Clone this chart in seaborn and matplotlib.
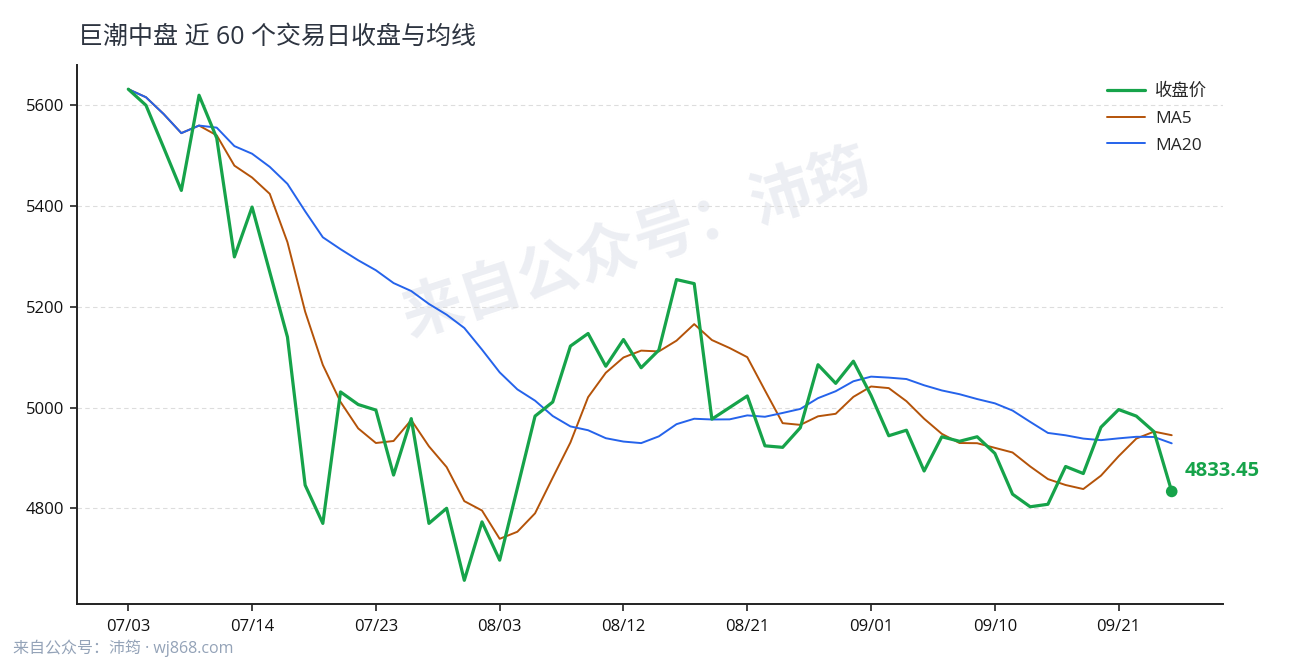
import matplotlib
matplotlib.use("Agg")
import matplotlib.pyplot as plt
import seaborn as sns
import pandas as pd
import numpy as np

# ---- data ----
title = "巨潮中盘 近 60 个交易日收盘与均线"
close = [5632, 5600, 5516, 5431, 5620, 5535, 5299, 5398, 5269, 5140,
         4846, 4770, 5031, 5006, 4995, 4866, 4978, 4770, 4800, 4657,
         4773, 4697, 4840, 4983, 5011, 5122, 5147, 5082, 5135, 5079,
         5114, 5254, 5246, 4977, 5000, 5023, 4924, 4921, 4960, 5085,
         5048, 5092, 5024, 4944, 4955, 4874, 4942, 4933, 4942, 4909,
         4828, 4803, 4808, 4883, 4869, 4961, 4996, 4983, 4952, 4833.45]
tick_labels = ["07/03", "07/14", "07/23", "08/03", "08/12",
               "08/21", "09/01", "09/10", "09/21"]
tick_step = 7
yticks = [4800, 5000, 5200, 5400, 5600]
series_names = ["收盘价", "MA5", "MA20"]
colors = ["#16a34a", "#b45309", "#2563eb"]
watermark = "来自公众号：沛筠"
footer = "来自公众号：沛筠 · wj868.com"

df = pd.DataFrame({"idx": np.arange(len(close)), "close": close})
df["ma5"] = df["close"].rolling(5, min_periods=1).mean()
df["ma20"] = df["close"].rolling(20, min_periods=1).mean()

sns.set_theme(style="white")
plt.rcParams["font.family"] = ["Open Sans", "Noto Sans CJK SC", "DejaVu Sans"]
plt.rcParams["axes.unicode_minus"] = False

fig = plt.figure(figsize=(12.9, 6.6), dpi=100)
ax = fig.add_axes([77 / 1290, 1 - 604 / 660, (1223 - 77) / 1290, (604 - 65) / 660])

ax.text(0.489, 0.665, watermark, transform=ax.transAxes, rotation=18,
        fontsize=44, fontweight="bold", color="#eceef3", ha="center",
        va="center", zorder=0.5, family=["Noto Sans CJK SC", "DejaVu Sans"])

sns.lineplot(data=df, x="idx", y="close", ax=ax, color=colors[0], lw=2.3,
             label=series_names[0], zorder=4)
sns.lineplot(data=df, x="idx", y="ma5", ax=ax, color=colors[1], lw=1.4,
             label=series_names[1], zorder=3)
sns.lineplot(data=df, x="idx", y="ma20", ax=ax, color=colors[2], lw=1.4,
             label=series_names[2], zorder=3)

last_i = len(close) - 1
ax.scatter([last_i], [close[-1]], s=70, color=colors[0], zorder=5, edgecolors="none")
ax.annotate(f"{close[-1]:.2f}", xy=(last_i, close[-1]), xytext=(9, 14.5),
            textcoords="offset points", fontsize=14.5, fontweight="bold",
            color=colors[0], ha="left", va="center")

ax.set_xlim(-2.9, 61.9)
ax.set_ylim(4610, 5680)
ax.set_xticks(np.arange(0, len(close), tick_step)[:len(tick_labels)])
ax.set_xticklabels(tick_labels)
ax.set_yticks(yticks)
ax.set_xlabel("")
ax.set_ylabel("")
ax.tick_params(axis="both", labelsize=12, colors="#222222", length=5,
               width=1.2, direction="out", bottom=True, left=True, pad=4)
ax.tick_params(axis="x", pad=6)
ax.tick_params(axis="both", labelcolor="#111111")
ax.yaxis.grid(True, color="#dddddd", linestyle=(0, (4, 3)), lw=0.8, zorder=0)
ax.xaxis.grid(False)
for s in ["top", "right"]:
    ax.spines[s].set_visible(False)
for s in ["left", "bottom"]:
    ax.spines[s].set_color("#222222")
    ax.spines[s].set_linewidth(1.4)

leg = ax.legend(loc="upper right", bbox_to_anchor=(1.0, 0.995), frameon=False,
                fontsize=12.5, handlelength=2.2, labelspacing=0.62,
                handletextpad=0.6)

fig.text(78 / 1290, 1 - 37 / 660, title, fontsize=18, color="#2d3440",
         ha="left", va="center")
fig.text(13 / 1290, 1 - 648 / 660, footer, fontsize=11.5, color="#94a3b8",
         ha="left", va="center")

fig.savefig("out.png", dpi=100)
